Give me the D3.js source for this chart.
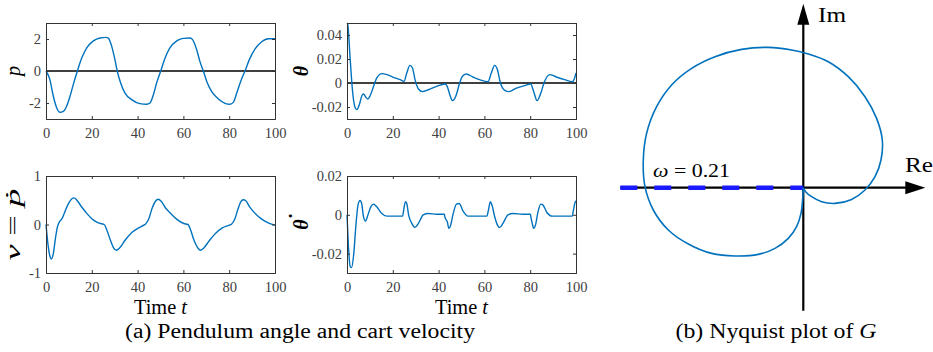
<!DOCTYPE html>
<html><head><meta charset="utf-8">
<script src="https://cdn.jsdelivr.net/npm/d3@7"></script>
<style>
body{margin:0;background:#fff;}
svg text{font-family:"Liberation Serif","Times New Roman",serif;}
</style></head>
<body><svg id="c" width="933" height="352"></svg>
<script>
// ---- data ----
const timeTicks = [0,20,40,60,80,100];
const pT = [0,1.7,3.2,4.7,6.1,7.6,9,10.5,11.9,13.7,15.6,17.8,20.7,23.6,26.2,27.2,28.7,30.1,31.1,32.6,34.5,37.4,41,44,45.4,46.9,48.3,50.1,52,54.1,57.1,60,62.9,64,65.8,67.2,68.7,70.2,72.3,75.3,78.2,80.3,81.8,83.3,85,86.9,88.8,91.3,94.2,97.1,100];
const pV = [0,-0.54,-1.58,-2.31,-2.58,-2.52,-2.2,-1.58,-0.85,0,0.81,1.44,1.88,2.06,2.1,2.06,1.54,0.71,0,-0.75,-1.38,-1.79,-2.04,-2.08,-2.0,-1.48,-0.75,0,0.81,1.44,1.88,2.04,2.06,1.96,1.33,0.6,0,-0.65,-1.27,-1.75,-2.02,-2.08,-1.96,-1.38,-0.65,0,0.71,1.38,1.83,2.02,2.02];
const pTicks = [-2,0,2];

const thT = [0,0.3,1.4,2.5,3.6,4.3,5.4,6.5,7.2,8.3,9.1,10.1,11.6,13,15.2,17.4,20.3,23.2,24.9,26.1,27.5,28.6,29.7,31.2,33,35.5,39.1,42.8,43.8,44.9,46.1,47.5,49.3,50.4,52.1,55,57.9,61.6,63,64.5,65.7,67,68.9,70.7,74,77.6,80.2,81.5,83,84.4,86.3,88.5,91.4,95,98.4,99.4,100];
const thV = [0.05,0.049,0.0194,-0.0083,-0.0208,-0.0222,-0.018,-0.0106,-0.0092,-0.012,-0.0133,-0.0106,-0.0028,0.0042,0.0078,0.007,0.0047,0.0028,0.0014,0.0083,0.0147,0.0125,0.0028,-0.005,-0.0072,-0.0056,-0.0028,-0.0008,-0.003,-0.0097,-0.0147,-0.011,0.0006,0.0056,0.0075,0.005,0.0028,0.0011,0.0083,0.0147,0.011,0,-0.0061,-0.0072,-0.0042,-0.0022,-0.0008,-0.007,-0.0147,-0.0097,0.0014,0.007,0.005,0.0028,0.0011,0.0042,0.0083];
const thTicks = [-0.02,0,0.02,0.04];

const vT = [0,0.9,1.75,2.3,3.2,4.1,5,5.8,7,8.3,9.8,11.3,12.3,13.5,15.6,17.8,20,22.2,24.4,25.4,26.6,28.1,29.5,30.7,32.2,34.6,37.6,40.5,42.7,43.4,44.9,46.3,47.8,49,50.3,52.2,54.4,57.3,60.2,62,63.2,64.6,66.4,67.5,69,71.2,74.1,77,80,81,82.5,83.9,85.1,86.1,87.3,88.7,90.9,93.9,96.8,100];
const vV = [0,-0.42,-0.66,-0.71,-0.6,-0.29,-0.05,0.05,0.12,0.27,0.43,0.53,0.55,0.5,0.36,0.23,0.12,0.05,0.014,0,-0.12,-0.32,-0.48,-0.53,-0.48,-0.32,-0.16,-0.07,-0.014,0.007,0.12,0.33,0.48,0.52,0.48,0.34,0.23,0.1,0.02,0,-0.12,-0.32,-0.49,-0.53,-0.48,-0.34,-0.18,-0.07,-0.014,0.007,0.12,0.33,0.47,0.51,0.49,0.38,0.25,0.12,0.04,-0.014];
const vTicks = [-1,0,1];

const tdT = [0,0.6,1.4,2,2.9,3.9,4.8,5.7,6.4,7.2,8.1,9.1,10.4,11.6,13,15.2,17.4,20.3,24.3,24.6,25.5,26.1,26.9,28.3,29.7,31.2,33.3,35.5,39.1,42.5,42.8,43.8,44.5,45.2,46.4,47.8,49,50.7,52.8,56.5,61.1,61.6,62.6,63.3,64.5,65.7,66.7,68.1,70.3,72.5,76.9,80.1,80.4,80.9,81.5,82.3,83.4,84.6,85.6,87.3,89.7,92.9,98.4,98.7,99.7,100];
const tdV = [0,-0.0156,-0.0267,-0.0272,-0.0207,-0.0053,0.005,0.0074,0.0058,-0.001,-0.0032,-0.0002,0.0041,0.0055,0.0041,0.0007,-0.0007,-0.0007,-0.0007,0.0012,0.0067,0.0058,0,-0.0044,-0.0065,-0.0044,0,0.0007,0.0003,0.0003,-0.0014,-0.0036,-0.007,-0.0056,0.0007,0.0055,0.0058,0.0019,-0.0007,-0.0007,-0.0007,0.0015,0.0067,0.005,-0.001,-0.0053,-0.0065,-0.0044,0,0.0007,0.0003,0.0003,-0.0019,-0.0044,-0.007,-0.0053,0.0015,0.0055,0.005,0.0012,-0.0007,-0.0007,-0.0007,0.0012,0.0067,0.007];
const tdTicks = [-0.02,0,0.02];

const nyqRe = [0,-0.007,-0.023,-0.067,-0.15,-0.283,-0.45,-0.683,-0.917,-1.15,-1.35,-1.5,-1.583,-1.6,-1.567,-1.467,-1.317,-1.117,-0.883,-0.617,-0.35,-0.117,0.05,0.25,0.45,0.617,0.733,0.79,0.777,0.717,0.617,0.483,0.317,0.183,0.083,0.023,0];
const nyqIm = [0,-0.123,-0.257,-0.39,-0.507,-0.607,-0.667,-0.683,-0.657,-0.563,-0.423,-0.223,0.01,0.277,0.543,0.81,1.027,1.193,1.31,1.383,1.403,1.377,1.337,1.26,1.11,0.91,0.693,0.477,0.277,0.11,-0.023,-0.117,-0.157,-0.14,-0.09,-0.04,0];
const omegaLine = [-1.83, 0];

// ---- drawing ----
const svg = d3.select("#c");
const lineColor = "#0072BD";
const axColor = "#333";

function panel(o){
  const x = d3.scaleLinear().domain([0,100]).range([o.x0,o.x1]);
  const y = d3.scaleLinear().domain(o.ydom).range([o.y1,o.y0]);
  const g = svg.append("g");
  if(o.zero){
    g.append("line").attr("x1",o.x0).attr("x2",o.x1).attr("y1",y(0)).attr("y2",y(0))
      .attr("stroke","#000").attr("stroke-width",1.3);
  }
  const data = o.t.map((d,i)=>[d,o.v[i]]);
  g.append("path").datum(data).attr("fill","none").attr("stroke",lineColor).attr("stroke-width",1.4)
    .attr("d", d3.line().x(d=>x(d[0])).y(d=>y(d[1])).curve(d3.curveMonotoneX));
  const ax = d3.axisBottom(x).tickValues(timeTicks).tickSize(-3).tickPadding(9).tickFormat(d3.format("d"));
  const ay = d3.axisLeft(y).tickValues(o.ticks).tickSize(-3).tickPadding(5).tickFormat(o.fmt);
  const axT = d3.axisTop(x).tickValues(timeTicks).tickSize(-3).tickFormat("");
  const ayR = d3.axisRight(y).tickValues(o.ticks).tickSize(-3).tickFormat("");
  [[ax,`translate(0,${o.y1})`],[ay,`translate(${o.x0},0)`],[axT,`translate(0,${o.y0})`],[ayR,`translate(${o.x1},0)`]].forEach(([a,tr])=>{
    const gg = g.append("g").attr("transform",tr).call(a).attr("font-family",null);
    gg.select(".domain").attr("stroke",axColor).attr("stroke-width",1);
    gg.selectAll(".tick line").attr("stroke",axColor);
    gg.selectAll("text").attr("font-size",14.5).attr("fill","#404040");
  });
  const yl = svg.append("text").attr("transform",`translate(${o.ylx},${(o.y0+o.y1)/2}) rotate(-90)`)
    .attr("text-anchor","middle").attr("font-size",20).attr("fill","#000");
  o.ylab(yl);
  if(o.xlab){
    const xl = svg.append("text").attr("x",(o.x0+o.x1)/2).attr("y",o.y1+41).attr("text-anchor","middle")
      .attr("font-size",20).attr("fill","#000").attr("textLength",53).attr("lengthAdjust","spacingAndGlyphs");
    xl.append("tspan").text("Time ");
    xl.append("tspan").attr("font-style","italic").text("t");
  }
}

const fmtInt = d=> d<0 ? "-"+Math.abs(d) : String(d);
const fmtDec = d=> d===0 ? "0" : (d<0 ? "-" : "") + Math.abs(d).toFixed(2);

panel({x0:46,x1:275,y0:23,y1:119,ydom:[-3,3],t:pT,v:pV,ticks:pTicks,fmt:fmtInt,zero:true,ylx:20,
  ylab:s=>s.append("tspan").attr("font-style","italic").text("p")});
panel({x0:347,x1:576,y0:23,y1:119,ydom:[-0.03,0.05],t:thT,v:thV,ticks:thTicks,fmt:fmtDec,zero:true,ylx:308,
  ylab:s=>s.append("tspan").attr("font-style","italic").attr("font-weight","bold").text("θ")});
panel({x0:46,x1:275,y0:176,y1:273,ydom:[-1,1],t:vT,v:vV,ticks:vTicks,fmt:fmtInt,zero:false,ylx:20,xlab:true,
  ylab:s=>{s.attr("font-size",21).attr("textLength",72).attr("lengthAdjust","spacingAndGlyphs");
           s.append("tspan").attr("font-style","italic").text("v");
           s.append("tspan").attr("dx",5).text("=");
           s.append("tspan").attr("dx",5).attr("font-style","italic").text("ṗ");}});
panel({x0:347,x1:576,y0:176,y1:273,ydom:[-0.03,0.02],t:tdT,v:tdV,ticks:tdTicks,fmt:fmtDec,zero:false,ylx:308,xlab:true,
  ylab:s=>s.append("tspan").attr("font-style","italic").attr("font-weight","bold").text("θ")});
// dot accent of theta-dot label
svg.append("text").attr("transform","translate(304,216) rotate(-90)").attr("text-anchor","middle")
  .attr("font-size",20).attr("font-weight","bold").attr("fill","#000").text("˙");

svg.append("text").attr("x",300).attr("y",338).attr("text-anchor","middle").attr("font-size",20.5).attr("fill","#000")
  .attr("textLength",350).attr("lengthAdjust","spacingAndGlyphs")
  .text("(a) Pendulum angle and cart velocity");

// ---- Nyquist ----
const nx = d3.scaleLinear().domain([-2,1.3]).range([603.3,933.3]);
const ny = d3.scaleLinear().domain([-1.5,1.9]).range([337.7,-2.3]);
const ng = svg.append("g");
ng.append("line").attr("x1",nx(-1.83)).attr("x2",nx(1.1)).attr("y1",ny(0)).attr("y2",ny(0)).attr("stroke","#000").attr("stroke-width",2.2);
ng.append("path").attr("d",`M${nx(1.22)},${ny(0)} L${nx(1.02)},${ny(0)-6.5} L${nx(1.02)},${ny(0)+6.5} Z`).attr("fill","#000");
ng.append("line").attr("x1",nx(0)).attr("x2",nx(0)).attr("y1",ny(-1.23)).attr("y2",ny(1.7)).attr("stroke","#000").attr("stroke-width",2.2);
ng.append("path").attr("d",`M${nx(0)},${ny(1.84)} L${nx(0)-6},${ny(1.63)} L${nx(0)+6},${ny(1.63)} Z`).attr("fill","#000");
ng.append("line").attr("x1",nx(omegaLine[0])).attr("x2",nx(omegaLine[1])).attr("y1",ny(0)).attr("y2",ny(0))
  .attr("stroke","#1a1aff").attr("stroke-width",4.5).attr("stroke-dasharray","17,17");
const nd = nyqRe.map((r,i)=>[r,nyqIm[i]]);
ng.append("path").datum(nd).attr("fill","none").attr("stroke",lineColor).attr("stroke-width",1.6)
  .attr("d",d3.line().x(d=>nx(d[0])).y(d=>ny(d[1])).curve(d3.curveCatmullRom.alpha(0.5)));
ng.append("text").attr("x",818).attr("y",22).attr("font-size",21).attr("textLength",28).attr("lengthAdjust","spacingAndGlyphs").text("Im");
ng.append("text").attr("x",905).attr("y",172).attr("font-size",21).attr("textLength",28).attr("lengthAdjust","spacingAndGlyphs").text("Re");
const om = ng.append("text").attr("x",653).attr("y",177).attr("font-size",19).attr("textLength",77).attr("lengthAdjust","spacingAndGlyphs");
om.append("tspan").attr("font-style","italic").text("ω");
om.append("tspan").text(" = 0.21");
svg.append("text").attr("x",776).attr("y",338).attr("text-anchor","middle").attr("font-size",20.5)
  .attr("textLength",201).attr("lengthAdjust","spacingAndGlyphs")
  .html('(b) Nyquist plot of <tspan font-style="italic">G</tspan>');
</script></body></html>
